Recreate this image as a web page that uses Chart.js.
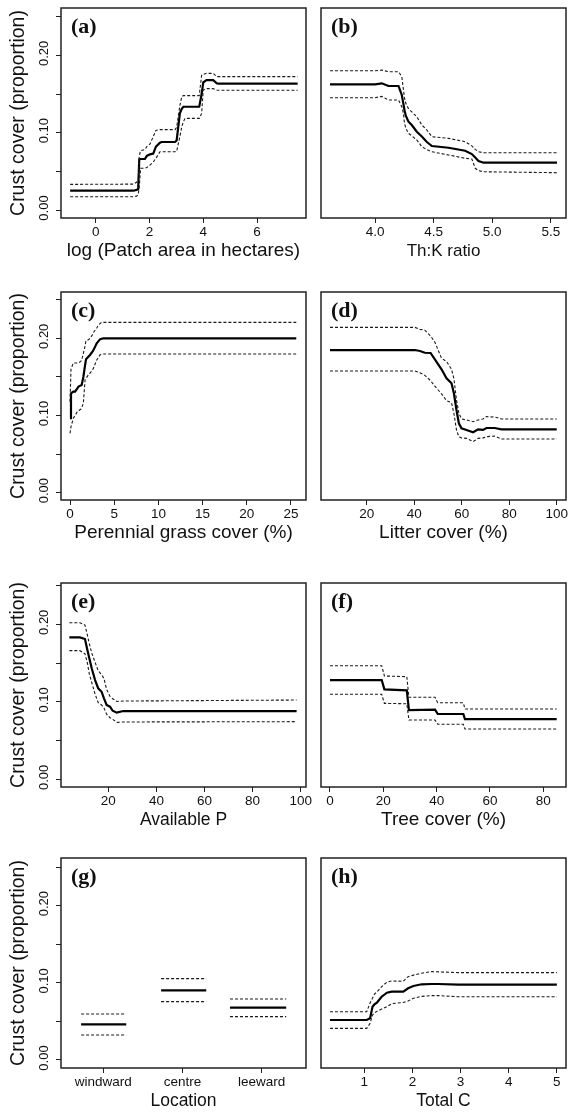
<!DOCTYPE html>
<html><head><meta charset="utf-8">
<script src="https://cdn.jsdelivr.net/npm/chart.js@4.4.0/dist/chart.umd.min.js"></script>
<style>
html,body{margin:0;padding:0;background:#fff;width:569px;height:1114px;overflow:hidden;position:relative}
</style></head><body>
<script>
// ---------- data ----------
const yTickVals = [0, 0.05, 0.10, 0.15, 0.20, 0.25];
const yLabelVals = [0, 0.10, 0.20];
const yLabels = ['0.00', '0.10', '0.20'];
const yTitle = 'Crust cover (proportion)';

const aX = [-0.95,1.40,1.52,1.58,1.62,1.67,1.83,1.90,2.02,2.14,2.24,2.39,2.45,2.95,3.01,3.13,3.20,3.26,3.32,3.85,3.94,4.00,4.12,4.37,4.50,4.56,7.51];
const aMean = [0.025,0.025,0.026,0.027,0.0656,0.066,0.066,0.070,0.072,0.073,0.082,0.087,0.088,0.088,0.090,0.125,0.131,0.1336,0.1336,0.1336,0.150,0.165,0.168,0.168,0.164,0.1634,0.1634];
const aUpper = [0.0332,0.0335,0.036,0.038,0.070,0.0767,0.0784,0.082,0.0854,0.095,0.103,0.104,0.104,0.104,0.107,0.135,0.1466,0.148,0.148,0.148,0.1746,0.1755,0.1768,0.1768,0.1725,0.1725,0.1725];
const aLower = [0.0172,0.0172,0.018,0.020,0.030,0.054,0.054,0.055,0.0582,0.062,0.067,0.0754,0.0754,0.0754,0.076,0.095,0.1078,0.114,0.1186,0.1186,0.125,0.1552,0.157,0.157,0.1552,0.155,0.155];
const aTicks = [0, 2, 4, 6];

const bX = [3.615,4.0,4.057,4.114,4.2,4.228,4.242,4.251,4.262,4.285,4.313,4.356,4.399,4.442,4.485,4.627,4.769,4.826,4.855,4.883,4.926,5.553];
const bMean = [0.1626,0.1626,0.1639,0.1604,0.1604,0.1488,0.137,0.129,0.122,0.1143,0.110,0.1013,0.095,0.088,0.0828,0.0806,0.0767,0.0724,0.068,0.0635,0.0612,0.0612];
const bUpper = [0.1802,0.1802,0.181,0.1789,0.1789,0.1725,0.1552,0.145,0.138,0.131,0.127,0.1207,0.110,0.1035,0.0948,0.0927,0.0884,0.083,0.0785,0.0754,0.0741,0.0741];
const bLower = [0.1453,0.1453,0.147,0.1423,0.1423,0.1336,0.125,0.1121,0.106,0.0992,0.096,0.0906,0.0819,0.078,0.0754,0.0712,0.0669,0.066,0.054,0.051,0.0495,0.0483];
const bTicks = [4.0, 4.5, 5.0, 5.5];
const bTickLabels = ['4.0', '4.5', '5.0', '5.5'];

const cX = [0,0.11,0.38,0.57,0.83,0.94,1.21,1.32,1.51,1.70,1.81,2.07,2.26,2.56,2.71,3.02,3.20,3.39,3.58,3.77,25.6];
const cMean = [0.0964,0.1288,0.131,0.131,0.135,0.1373,0.139,0.1395,0.150,0.165,0.1728,0.176,0.1784,0.183,0.186,0.1935,0.196,0.1987,0.1995,0.200,0.200];
const cUpper = [0.1179,0.160,0.168,0.168,0.168,0.168,0.170,0.1719,0.1806,0.190,0.1969,0.198,0.1999,0.205,0.2086,0.213,0.2172,0.219,0.2207,0.2207,0.2207];
const cLower = [0.0769,0.0855,0.0964,0.100,0.105,0.106,0.108,0.110,0.1158,0.146,0.148,0.1525,0.155,0.159,0.163,0.172,0.175,0.1784,0.1795,0.1797,0.1797];
const cTicks = [0, 5, 10, 15, 20, 25];

const dX = [4.55,40.3,42.4,44.5,46.9,48.7,51.5,53.6,55.7,56.7,57.8,58.8,59.9,62.0,64.8,66.9,69.0,70.4,73.9,76.7,100];
const dMean = [0.1848,0.1848,0.1835,0.1813,0.181,0.1728,0.1598,0.1482,0.1417,0.1288,0.1071,0.0899,0.0834,0.0813,0.0782,0.0821,0.0813,0.0838,0.0838,0.0821,0.0821];
const dUpper = [0.2142,0.2142,0.2116,0.2105,0.203,0.195,0.1741,0.170,0.160,0.148,0.120,0.103,0.0955,0.0942,0.092,0.0942,0.0955,0.0985,0.098,0.0955,0.0955];
const dLower = [0.1577,0.1577,0.1555,0.152,0.145,0.138,0.128,0.1192,0.1166,0.1028,0.0812,0.0725,0.071,0.0704,0.0661,0.0704,0.071,0.0725,0.0734,0.0696,0.0696];
const dTicks = [20, 40, 60, 80, 100];

const eX = [3.8,8.2,10.3,11.3,12.1,13.1,14.5,15.8,17.2,18.2,19.3,20.7,21.8,23.5,26.2,98.3];
const eMean = [0.1832,0.1832,0.181,0.1668,0.1561,0.1432,0.1281,0.1174,0.113,0.1045,0.0959,0.0937,0.0885,0.086,0.0881,0.0881];
const eUpper = [0.2021,0.2021,0.199,0.186,0.175,0.163,0.151,0.140,0.135,0.130,0.116,0.107,0.104,0.1005,0.101,0.1023];
const eLower = [0.166,0.166,0.162,0.150,0.136,0.125,0.110,0.099,0.0959,0.092,0.084,0.0795,0.0775,0.0735,0.074,0.0744];
const eTicks = [20, 40, 60, 80, 100];

const fX = [0,19.4,20.4,28.8,29.6,39.4,40.4,50.0,50.6,85];
const fMean = [0.1281,0.1281,0.1161,0.1148,0.0894,0.090,0.0843,0.0843,0.0778,0.0778];
const fUpper = [0.1466,0.1466,0.1333,0.1325,0.1058,0.1058,0.0988,0.0988,0.0907,0.0907];
const fLower = [0.1097,0.1097,0.098,0.0975,0.0765,0.0765,0.071,0.071,0.0649,0.0649];
const fTicks = [0, 20, 40, 60, 80];

const gCats = ['windward', 'centre', 'leeward'];
const gMean = [0.0462, 0.0903, 0.0678];
const gUpper = [0.0596, 0.1054, 0.0791];
const gLower = [0.0324, 0.0756, 0.0562];
const gSegFrom = [0.72, 1.73, 2.60];
const gSegTo = [1.29, 2.30, 3.31];
const gTicks = [1, 2, 3];

const hX = [0.287,1.05,1.12,1.17,1.21,1.26,1.36,1.47,1.57,1.81,1.91,2.02,2.19,2.40,2.54,2.95,5.0];
const hMean = [0.0518,0.0518,0.054,0.0691,0.072,0.0743,0.082,0.0872,0.0885,0.0885,0.0929,0.0959,0.0981,0.0985,0.0985,0.0977,0.0977];
const hUpper = [0.0626,0.0626,0.074,0.080,0.0855,0.088,0.095,0.101,0.1024,0.102,0.108,0.110,0.1125,0.1145,0.1142,0.1132,0.1132];
const hLower = [0.041,0.041,0.0475,0.0583,0.061,0.063,0.066,0.069,0.073,0.0745,0.0765,0.080,0.0825,0.0834,0.0834,0.082,0.082];
const hTicks = [1, 2, 3, 4, 5];

// axis ranges (as read from the frame edges)
const rowYMin = [-0.0103, -0.0095, -0.0099, -0.0104];
const rowYMax = [0.2613, 0.2600, 0.2533, 0.2618];

// ---------- layout ----------
const FAM = '"Liberation Sans", Arial, Helvetica, sans-serif';
const rowTop = [0, 284, 575, 850];
const rowBoxH = [210, 208, 204, 210];
const colLeft = [0, 312];
const colW = [312, 257];
const X_AXIS_H = 44;
const PAD_TOP = 8;

function pts(xs, ys) { return xs.map((x, i) => ({x: x, y: ys[i]})); }

const meanStyle = {borderColor: '#000', borderWidth: 2.2, borderDash: []};
const ciStyle = {borderColor: '#1a1a1a', borderWidth: 1.1, borderDash: [3, 2]};

function curveSets(xs, m, u, l) {
  return [
    Object.assign({data: pts(xs, u)}, ciStyle),
    Object.assign({data: pts(xs, l)}, ciStyle),
    Object.assign({data: pts(xs, m)}, meanStyle)
  ];
}
function catSets() {
  const out = [];
  gCats.forEach((c, i) => {
    const seg = (v) => [{x: gSegFrom[i], y: v}, {x: gSegTo[i], y: v}];
    out.push(Object.assign({data: seg(gUpper[i])}, ciStyle));
    out.push(Object.assign({data: seg(gLower[i])}, ciStyle));
    out.push(Object.assign({data: seg(gMean[i])}, meanStyle));
  });
  return out;
}

const panels = [
  {letter:'a', row:0, col:0, sets: curveSets(aX, aMean, aUpper, aLower), xr:[-1.29, 7.82], ticks:aTicks, labels:null, title:'log (Patch area in hectares)', ts:19},
  {letter:'b', row:0, col:1, sets: curveSets(bX, bMean, bUpper, bLower), xr:[3.538, 5.63], ticks:bTicks, labels:bTickLabels, title:'Th:K ratio', ts:17},
  {letter:'c', row:1, col:0, sets: curveSets(cX, cMean, cUpper, cLower), xr:[-1.02, 26.7], ticks:cTicks, labels:null, title:'Perennial grass cover (%)', ts:19},
  {letter:'d', row:1, col:1, sets: curveSets(dX, dMean, dUpper, dLower), xr:[0.76, 103.9], ticks:dTicks, labels:null, title:'Litter cover (%)', ts:19},
  {letter:'e', row:2, col:0, sets: curveSets(eX, eMean, eUpper, eLower), xr:[0.33, 102.2], ticks:eTicks, labels:null, title:'Available P', ts:17.5},
  {letter:'f', row:2, col:1, sets: curveSets(fX, fMean, fUpper, fLower), xr:[-3.37, 88.5], ticks:fTicks, labels:null, title:'Tree cover (%)', ts:19},
  {letter:'g', row:3, col:0, sets: catSets(), xr:[0.466, 3.56], ticks:gTicks, labels:gCats, title:'Location', ts:17.5},
  {letter:'h', row:3, col:1, sets: curveSets(hX, hMean, hUpper, hLower), xr:[0.1, 5.19], ticks:hTicks, labels:null, title:'Total C', ts:17.5}
];

const deco = {
  id: 'deco',
  afterDraw(chart, args, opts) {
    const ctx = chart.ctx, a = chart.chartArea;
    ctx.save();
    ctx.strokeStyle = '#222';
    ctx.lineWidth = 1.5;
    ctx.strokeRect(a.left, a.top, a.right - a.left, a.bottom - a.top);
    if (opts.showY) {
      const ys = chart.scales.y;
      ctx.fillStyle = '#111';
      ctx.font = '13px ' + FAM;
      ctx.textAlign = 'center';
      ctx.textBaseline = 'middle';
      yLabelVals.forEach((v, i) => {
        ctx.save();
        ctx.translate(44, ys.getPixelForValue(v) - 2);
        ctx.rotate(-Math.PI / 2);
        ctx.fillText(yLabels[i], 0, 0);
        ctx.restore();
      });
    }
    ctx.fillStyle = '#111';
    ctx.font = 'bold 22px "Liberation Serif", "Times New Roman", serif';
    ctx.textAlign = 'left';
    ctx.textBaseline = 'middle';
    ctx.fillText('(' + opts.letter + ')', a.left + 10, a.top + 19);
    ctx.restore();
  }
};

panels.forEach(p => {
  const c = document.createElement('canvas');
  const W = colW[p.col];
  const H = PAD_TOP + rowBoxH[p.row] + X_AXIS_H;
  c.width = W; c.height = H;
  c.style.cssText = 'position:absolute;left:' + colLeft[p.col] + 'px;top:' + rowTop[p.row] + 'px;width:' + W + 'px;height:' + H + 'px';
  document.body.appendChild(c);
  const left = p.col === 0;
  new Chart(c, {
    type: 'line',
    data: {datasets: p.sets.map(s => Object.assign({pointRadius: 0, fill: false, tension: 0}, s))},
    options: {
      responsive: false, animation: false, devicePixelRatio: 1,
      layout: {padding: {left: left ? 0 : 9, right: left ? 6 : 3, top: PAD_TOP, bottom: 0}},
      plugins: {legend: {display: false}, tooltip: {enabled: false}, deco: {letter: p.letter, showY: left}},
      events: [],
      scales: {
        x: {
          type: 'linear', min: p.xr[0], max: p.xr[1],
          afterBuildTicks: s => { s.ticks = p.ticks.map(v => ({value: v})); },
          afterFit: s => { s.height = X_AXIS_H; s.paddingLeft = 0; s.paddingRight = 0; },
          grid: {drawOnChartArea: false, drawTicks: true, tickLength: 5, color: '#222', lineWidth: 1},
          border: {display: false},
          ticks: {
            font: {size: 13.5, family: FAM}, color: '#111', padding: 1.5,
            maxRotation: 0, minRotation: 0, autoSkip: false,
            callback: (v, i) => p.labels ? p.labels[i] : String(v)
          },
          title: {display: true, text: p.title, font: {size: p.ts, family: FAM}, color: '#111', padding: {top: 0, bottom: 0}}
        },
        y: {
          display: left,
          min: rowYMin[p.row], max: rowYMax[p.row],
          afterBuildTicks: s => { s.ticks = yTickVals.map(v => ({value: v})); },
          afterFit: s => { s.width = left ? 61 : 0; s.paddingTop = 0; s.paddingBottom = 0; },
          grid: {drawOnChartArea: false, drawTicks: true, tickLength: 5, color: '#222', lineWidth: 1},
          border: {display: false},
          ticks: {display: false},
          title: {display: true, text: yTitle, font: {size: 19.5, family: FAM}, color: '#111', padding: {top: 7, bottom: 0}}
        }
      }
    },
    plugins: [deco]
  });
});
</script>
</body></html>
